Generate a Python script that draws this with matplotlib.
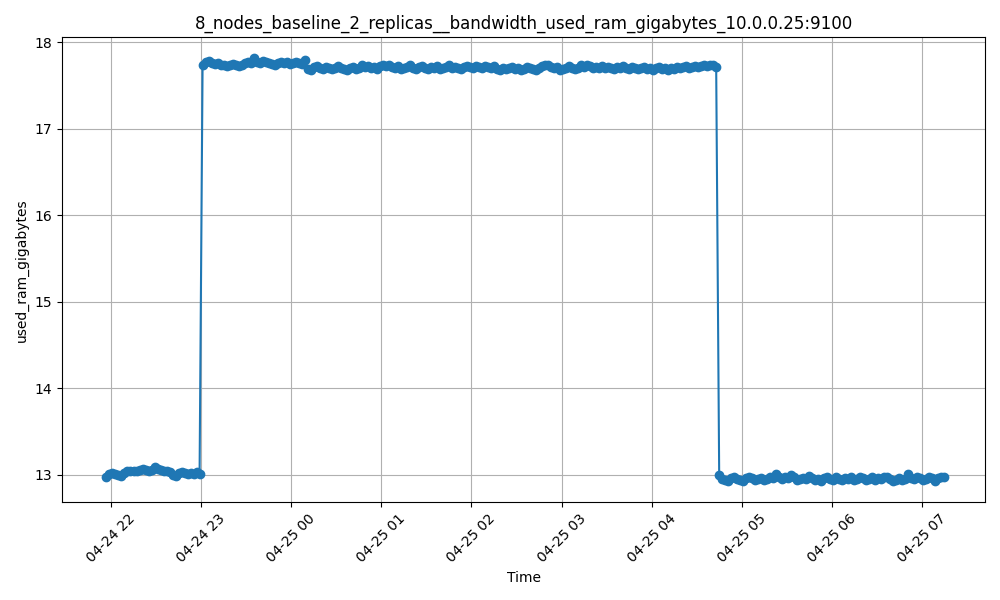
import pandas as pd
import matplotlib
matplotlib.use("Agg")
import matplotlib.pyplot as plt

# Sample times: one reading every 2 minutes
start_time = "2024-04-24 21:57"
step = "2min"

# 21:57 - 22:59, before the load starts
low_before = [12.97, 13.01, 13.02, 13.01, 13.00, 12.99, 13.02, 13.04, 13.04, 13.05,
              13.04, 13.06, 13.07, 13.06, 13.05, 13.06, 13.09, 13.07, 13.06, 13.05,
              13.04, 13.03, 13.00, 12.99, 13.02, 13.03, 13.02, 13.01, 13.02, 13.01,
              13.03, 13.01]

# 23:01 - 00:09
high_first = [17.73, 17.77, 17.78, 17.76, 17.75, 17.76, 17.74, 17.73, 17.72, 17.74,
              17.75, 17.73, 17.72, 17.74, 17.76, 17.77, 17.76, 17.81, 17.77, 17.76,
              17.78, 17.77, 17.76, 17.75, 17.74, 17.76, 17.77, 17.76, 17.77, 17.75,
              17.76, 17.77, 17.76, 17.75, 17.79]

# 00:11 - 04:43
high_second = [17.69, 17.68, 17.71, 17.72, 17.70, 17.69, 17.71, 17.70, 17.69, 17.70,
               17.72, 17.70, 17.69, 17.68, 17.70, 17.71, 17.69, 17.70, 17.73, 17.71,
               17.72, 17.70, 17.71, 17.69, 17.72, 17.73, 17.72, 17.74, 17.71, 17.70,
               17.72, 17.69, 17.70, 17.71, 17.73, 17.70, 17.69, 17.71, 17.72, 17.70,
               17.69, 17.71, 17.70, 17.72, 17.69, 17.70, 17.71, 17.73, 17.70, 17.71,
               17.70, 17.69, 17.71, 17.72, 17.71, 17.70, 17.72, 17.71, 17.70, 17.72,
               17.71, 17.70, 17.72, 17.69, 17.68, 17.70, 17.69, 17.70, 17.71, 17.69,
               17.70, 17.68, 17.69, 17.71, 17.70, 17.69, 17.68, 17.70, 17.72, 17.74,
               17.73, 17.71, 17.70, 17.71, 17.68, 17.69, 17.70, 17.72, 17.70, 17.69,
               17.70, 17.73, 17.71, 17.74, 17.72, 17.70, 17.71, 17.70, 17.72, 17.70,
               17.71, 17.70, 17.69, 17.71, 17.70, 17.72, 17.70, 17.69, 17.71, 17.70,
               17.69, 17.70, 17.71, 17.69, 17.70, 17.68, 17.70, 17.71, 17.69, 17.70,
               17.68, 17.70, 17.69, 17.71, 17.70, 17.71, 17.72, 17.70, 17.71, 17.72,
               17.71, 17.72, 17.73, 17.72, 17.74, 17.73, 17.71]

# 04:45 - 07:15, after the load stops
low_after = [13.00, 12.95, 12.94, 12.93, 12.96, 12.97, 12.95, 12.94, 12.93, 12.96,
             12.97, 12.96, 12.94, 12.95, 12.96, 12.94, 12.95, 12.97, 12.96, 13.01,
             12.97, 12.95, 12.98, 12.96, 13.00, 12.98, 12.94, 12.95, 12.96, 12.95,
             12.99, 12.96, 12.94, 12.95, 12.93, 12.96, 12.97, 12.95, 12.94, 12.97,
             12.95, 12.94, 12.96, 12.95, 12.97, 12.94, 12.95, 12.98, 12.96, 12.94,
             12.95, 12.97, 12.94, 12.96, 12.95, 12.97, 12.98, 12.95, 12.93, 12.94,
             12.96, 12.94, 12.95, 13.01, 12.96, 12.95, 12.97, 12.96, 12.94, 12.95,
             12.97, 12.96, 12.93, 12.96, 12.98, 12.97]

values = low_before + high_first + high_second + low_after
times = pd.date_range(start=start_time, periods=len(values), freq=step)

plt.figure(figsize=(10, 6))
plt.plot(times, values, marker='o')
plt.xlim(pd.Timestamp("2024-04-24 21:27:30"), pd.Timestamp("2024-04-25 07:42"))
plt.title("8_nodes_baseline_2_replicas__bandwidth_used_ram_gigabytes_10.0.0.25:9100")
plt.xlabel("Time")
plt.ylabel("used_ram_gigabytes")
plt.xticks(rotation=45)
plt.grid(True)
plt.tight_layout()
plt.savefig("out.png", dpi=100)
plt.close()
